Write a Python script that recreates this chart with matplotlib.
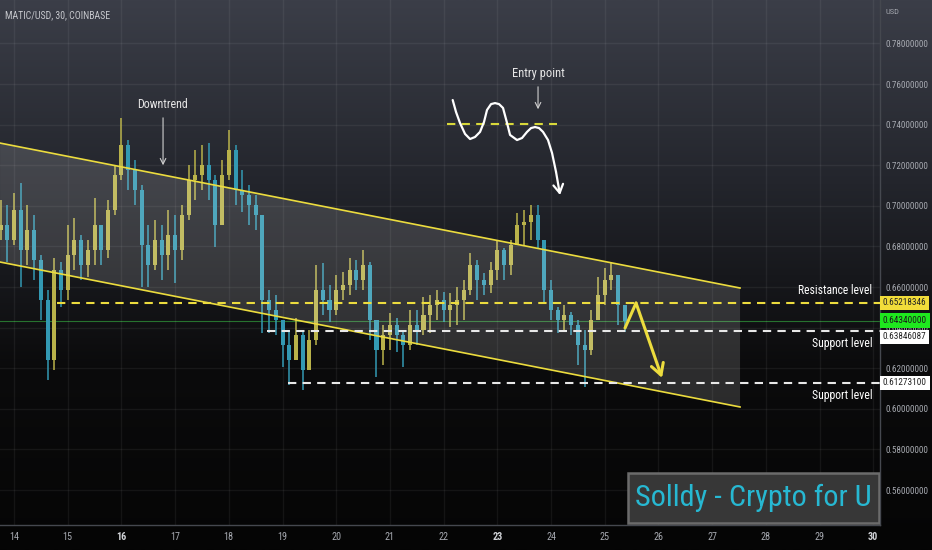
import matplotlib
matplotlib.use("Agg")
import matplotlib.pyplot as plt
import matplotlib.font_manager as fm
import numpy as np
from matplotlib.colors import LinearSegmentedColormap
from matplotlib.patches import Polygon, Rectangle

t0 = 13.75
step = 0.125
first_open = 0.6881
closes = [0.6905, 0.6832, 0.6979, 0.6782, 0.6881, 0.6733, 0.6536, 0.6240, 0.6684, 0.6585,
          0.6758, 0.6832, 0.6708, 0.6782, 0.6905, 0.6782, 0.6979, 0.7152, 0.7300, 0.7176,
          0.7078, 0.6807, 0.6708, 0.6832, 0.6758, 0.6856, 0.6782, 0.6955, 0.7127, 0.7152,
          0.7201, 0.7127, 0.6905, 0.7152, 0.7275, 0.7078, 0.7053, 0.7004, 0.6955, 0.6536,
          0.6487, 0.6437, 0.6314, 0.6240, 0.6364, 0.6191, 0.6339, 0.6585, 0.6536, 0.6487,
          0.6585, 0.6610, 0.6684, 0.6634, 0.6708, 0.6437, 0.6290, 0.6364, 0.6413, 0.6364,
          0.6314, 0.6413, 0.6388, 0.6462, 0.6511, 0.6536, 0.6487, 0.6511, 0.6536, 0.6585,
          0.6708, 0.6634, 0.6610, 0.6684, 0.6782, 0.6708, 0.6807, 0.6905, 0.6920, 0.6955,
          0.6832, 0.6585, 0.6487, 0.6437, 0.6462, 0.6413, 0.6314, 0.6290, 0.6437, 0.6561,
          0.6634, 0.6659, 0.6511, 0.6434]
highs = [0.7029, 0.7004, 0.7063, 0.7112, 0.7004, 0.6955, 0.6758, 0.6585, 0.6743, 0.6723,
         0.6905, 0.6940, 0.6856, 0.6832, 0.7038, 0.6896, 0.7029, 0.7201, 0.7433, 0.7324,
         0.7226, 0.7102, 0.6905, 0.6930, 0.6905, 0.6979, 0.6955, 0.7004, 0.7201, 0.7275,
         0.7300, 0.7309, 0.7152, 0.7226, 0.7373, 0.7300, 0.7176, 0.7102, 0.7053, 0.6930,
         0.6585, 0.6561, 0.6437, 0.6388, 0.6447, 0.6388, 0.6388, 0.6708, 0.6718, 0.6610,
         0.6659, 0.6674, 0.6743, 0.6733, 0.6782, 0.6723, 0.6413, 0.6413, 0.6472, 0.6447,
         0.6388, 0.6487, 0.6487, 0.6551, 0.6561, 0.6585, 0.6575, 0.6570, 0.6600, 0.6634,
         0.6767, 0.6733, 0.6669, 0.6723, 0.6832, 0.6792, 0.6832, 0.6965, 0.6979, 0.7004,
         0.7004, 0.6832, 0.6634, 0.6501, 0.6511, 0.6477, 0.6437, 0.6388, 0.6487, 0.6649,
         0.6694, 0.6723, 0.6659, 0.6472]
lows = [0.6832, 0.6723, 0.6807, 0.6600, 0.6708, 0.6634, 0.6437, 0.6142, 0.6191, 0.6501,
        0.6536, 0.6684, 0.6634, 0.6649, 0.6708, 0.6708, 0.6743, 0.6955, 0.7127, 0.7078,
        0.7004, 0.6600, 0.6600, 0.6684, 0.6634, 0.6684, 0.6620, 0.6733, 0.6930, 0.7029,
        0.7078, 0.7029, 0.6797, 0.6905, 0.7127, 0.7004, 0.6969, 0.6905, 0.6881, 0.6373,
        0.6373, 0.6364, 0.6206, 0.6117, 0.6265, 0.6093, 0.6191, 0.6314, 0.6462, 0.6428,
        0.6462, 0.6536, 0.6561, 0.6585, 0.6585, 0.6339, 0.6157, 0.6216, 0.6290, 0.6280,
        0.6206, 0.6290, 0.6314, 0.6364, 0.6373, 0.6437, 0.6428, 0.6403, 0.6413, 0.6437,
        0.6561, 0.6536, 0.6561, 0.6570, 0.6634, 0.6634, 0.6659, 0.6807, 0.6807, 0.6832,
        0.6792, 0.6521, 0.6437, 0.6373, 0.6388, 0.6364, 0.6216, 0.6107, 0.6265, 0.6487,
        0.6511, 0.6585, 0.6413, 0.6378]

price_ticks = [0.56, 0.58, 0.60, 0.62, 0.64, 0.66, 0.68, 0.70, 0.72, 0.74, 0.76, 0.78]
day_ticks = list(range(14, 31))
bold_days = [16, 23, 30]

# drawings (day, price)
channel_top = [(13.74, 0.7309), (27.52, 0.6595)]
channel_bottom = [(13.74, 0.6723), (27.52, 0.6009)]
resistance = 0.65218346
supports = [0.63846087, 0.61273100]
last_price = 0.6434
level_starts = [14.80, 18.71, 19.10]
entry_level = (22.063, 24.112, 0.7403)
entry_sketch = [(22.169, 0.7521), (22.231, 0.7462), (22.305, 0.7408), (22.399, 0.7354),
                (22.492, 0.7329), (22.585, 0.7339), (22.678, 0.7364), (22.752, 0.7413),
                (22.808, 0.7472), (22.883, 0.7501), (22.957, 0.7506), (23.032, 0.7501),
                (23.106, 0.7482), (23.181, 0.7408), (23.237, 0.7349), (23.367, 0.7324),
                (23.460, 0.7334), (23.553, 0.7364), (23.628, 0.7383), (23.702, 0.7388),
                (23.777, 0.7383), (23.851, 0.7364), (23.944, 0.7324), (24.019, 0.7260),
                (24.093, 0.7167), (24.168, 0.7053)]
forecast = [(25.378, 0.6398), (25.583, 0.6521), (26.067, 0.6152)]

up_col = '#b9b24a'
down_col = '#3399b3'
yellow = '#ecdc3e'


def pick_narrow_font():
    # the chart uses a condensed face, take whatever narrow one is around
    keys = ['ubuntucondensed', 'robotocondensed', 'dejavusanscondensed', 'liberationsansnarrow',
            'opensanscondensed', 'opensans_condensed', 'notosans-condensed', 'condensed', 'narrow']
    for k in keys:
        for f in fm.fontManager.ttflist:
            fn = f.fname.lower().replace(' ', '')
            if k in fn and not any(b in fn for b in ['bold', 'italic', 'oblique', 'light', 'thin', 'black', 'semi', 'extra']):
                return f
    return None


nf = pick_narrow_font()
if nf is not None:
    plt.rcParams['font.family'] = [nf.name, 'DejaVu Sans']
    plt.rcParams['font.stretch'] = nf.stretch
else:
    plt.rcParams['font.family'] = ['Liberation Sans', 'DejaVu Sans']

fig = plt.figure(figsize=(9.32, 5.5), dpi=100)


def fit(txt, target_px):
    fig.canvas.draw()
    w = txt.get_window_extent().width
    txt.set_fontsize(txt.get_fontsize() * target_px / w)


# background gradient, grey on top to black at the bottom
bg = fig.add_axes([0, 0, 1, 1])
cmap = LinearSegmentedColormap.from_list('bg', ['#3b3e48', '#23252c', '#0b0b0c', '#050505'])
bg.imshow(np.linspace(0, 1, 256).reshape(-1, 1), aspect='auto', cmap=cmap, extent=[0, 1, 0, 1])
bg.axis('off')
bg.set_zorder(-1)

ax = fig.add_axes([0, 25 / 550, 880 / 932, 525 / 550])
ax.set_facecolor('none')
ax.set_xlim(13.739, 30.126)
ax.set_ylim(0.54276, 0.80138)

for s in ['top', 'left']:
    ax.spines[s].set_visible(False)
for s in ['right', 'bottom']:
    ax.spines[s].set_color('#45484f')
    ax.spines[s].set_linewidth(1)

ax.set_xticks(day_ticks)
ax.set_yticks(price_ticks)
ax.yaxis.tick_right()
ax.set_yticklabels([f"{p:.8f}" for p in price_ticks])
ax.tick_params(axis='y', length=0, pad=4, labelsize=7, labelcolor='#a6a9b0')
ax.tick_params(axis='x', length=0, pad=5, labelsize=7, labelcolor='#a6a9b0')
ax.grid(True, color='white', alpha=0.06, lw=1)

# candles
times = t0 + step * np.arange(len(closes))
opens = [first_open] + closes[:-1]
colors = [up_col if c >= o else down_col for o, c in zip(opens, closes)]
ax.vlines(times, lows, highs, colors=colors, lw=1.1, zorder=2)
bodies = [c - o if abs(c - o) > 0.0008 else 0.0008 for o, c in zip(opens, closes)]
ax.bar(times, bodies, bottom=opens, width=0.075, color=colors, zorder=2)

# current price line
ax.axhline(last_price, color='#2e8b37', lw=0.8, alpha=0.8, zorder=1)

# channel
chan = Polygon([channel_top[0], channel_top[1], channel_bottom[1], channel_bottom[0]],
               closed=True, fc='white', alpha=0.14, ec='none', zorder=3)
ax.add_patch(chan)
ax.plot(*zip(*channel_top), color=yellow, lw=1.2, zorder=4)
ax.plot(*zip(*channel_bottom), color=yellow, lw=1.2, zorder=4)

# levels
xr = ax.get_xlim()[1]
ax.hlines(resistance, level_starts[0], xr, color=yellow, lw=1.5, linestyles=(0, (4, 3)), zorder=4)
ax.hlines(supports[0], level_starts[1], xr, color='#e8e8e8', lw=1.5, linestyles=(0, (4, 3)), zorder=4)
ax.hlines(supports[1], level_starts[2], xr, color='#e8e8e8', lw=1.5, linestyles=(0, (4, 3)), zorder=4)

lab = dict(ha='right', va='center', color='white', fontsize=9.5, textcoords='offset points',
           xycoords='data', zorder=6)
t_res = ax.annotate('Resistance level', xy=(29.98, resistance), xytext=(0, 9), **lab)
t_s1 = ax.annotate('Support level', xy=(29.98, supports[0]), xytext=(0, -9), **lab)
t_s2 = ax.annotate('Support level', xy=(29.98, supports[1]), xytext=(0, -9), **lab)

# price tags on the scale
tag = dict(xycoords=('axes fraction', 'data'), textcoords='offset points', ha='left', va='center',
           fontsize=7, annotation_clip=False, zorder=10)
tags = [
    ax.annotate(f"{resistance:.8f}", xy=(1, resistance), xytext=(2, 0), color='#222222',
                bbox=dict(boxstyle='square,pad=0.3', fc='#f2dd3a', ec='none'), **tag),
    ax.annotate(f"{last_price:.8f}", xy=(1, last_price), xytext=(2, 0), color='#1a1a1a',
                bbox=dict(boxstyle='square,pad=0.3', fc='#1ee81e', ec='none'), **tag),
    ax.annotate(f"{supports[0]:.8f}", xy=(1, supports[0]), xytext=(2, -4.5), color='#222222',
                bbox=dict(boxstyle='square,pad=0.3', fc='white', ec='none'), **tag),
    ax.annotate(f"{supports[1]:.8f}", xy=(1, supports[1]), xytext=(2, 0), color='#222222',
                bbox=dict(boxstyle='square,pad=0.3', fc='white', ec='none'), **tag),
]

# downtrend note
t_down = ax.text(16.756, 0.7497, 'Downtrend', ha='center', va='center', color='#e6e6e6',
                 fontsize=9, zorder=6)
ax.annotate('', xy=(16.775, 0.7186), xytext=(16.775, 0.7447),
            arrowprops=dict(arrowstyle='->', color='#cfcfcf', lw=0.8), zorder=6)

# entry sketch
t_entry = ax.text(23.758, 0.7654, 'Entry point', ha='center', va='center', color='#e6e6e6',
                  fontsize=9, zorder=6)
ax.annotate('', xy=(23.758, 0.7462), xytext=(23.758, 0.7600),
            arrowprops=dict(arrowstyle='->', color='#cfcfcf', lw=0.8), zorder=6)
ax.hlines(entry_level[2], entry_level[0], entry_level[1], color='#d8d83a', lw=1.5,
          linestyles=(0, (4, 3)), zorder=5)
ex, ey = zip(*entry_sketch)
ax.plot(ex[:-1], ey[:-1], color='white', lw=1.6, solid_joinstyle='round', solid_capstyle='round', zorder=6)
ax.annotate('', xy=entry_sketch[-1], xytext=entry_sketch[-2],
            arrowprops=dict(arrowstyle='->,head_length=0.6,head_width=0.35', color='white', lw=1.6,
                            shrinkA=0, shrinkB=0), zorder=6)

# forecast arrow
ax.plot(*zip(*forecast[:2]), color=yellow, lw=2.2, solid_capstyle='round', zorder=6)
ax.annotate('', xy=forecast[2], xytext=forecast[1],
            arrowprops=dict(arrowstyle='->,head_length=0.8,head_width=0.45', color=yellow, lw=2.2,
                            shrinkA=0, shrinkB=0), zorder=6)

# watermark
ax.add_patch(Rectangle((0.7136, 0.0038), 0.2853, 0.0952, transform=ax.transAxes,
                       fc='#3a3a3a', ec='#707070', lw=1.8, alpha=0.95, zorder=7))
wm = ax.text(0.8563, 0.0514, 'Solldy - Crypto for U', transform=ax.transAxes, ha='center',
             va='center', color='#27b8d2', fontsize=22, zorder=8)

title = fig.text(5 / 932, 1 - 15 / 550, 'MATIC/USD, 30, COINBASE', ha='left', va='center',
                 color='#c5c7cc', fontsize=8)
usd = fig.text(885 / 932, 1 - 12 / 550, 'USD', ha='left', va='center', color='#a0a3aa', fontsize=6.5)

# size texts to the widths they take on the reference
fit(wm, 236)
fit(title, 106)
fit(usd, 14)
fit(t_res, 74)
fit(t_s1, 61)
fit(t_s2, 61)
fit(t_down, 51)
fit(t_entry, 53)
for t in tags:
    fit(t, 44)
fig.canvas.draw()
yl = ax.get_yticklabels()[0]
ysize = 7 * 43 / yl.get_window_extent().width
ax.tick_params(axis='y', labelsize=ysize)
ax.tick_params(axis='x', labelsize=ysize * 1.1)
for lbl, d in zip(ax.get_xticklabels(), day_ticks):
    if d in bold_days:
        lbl.set_fontweight('bold')
        lbl.set_color('#d0d2d6')

fig.savefig('out.png', dpi=100)
plt.close()
